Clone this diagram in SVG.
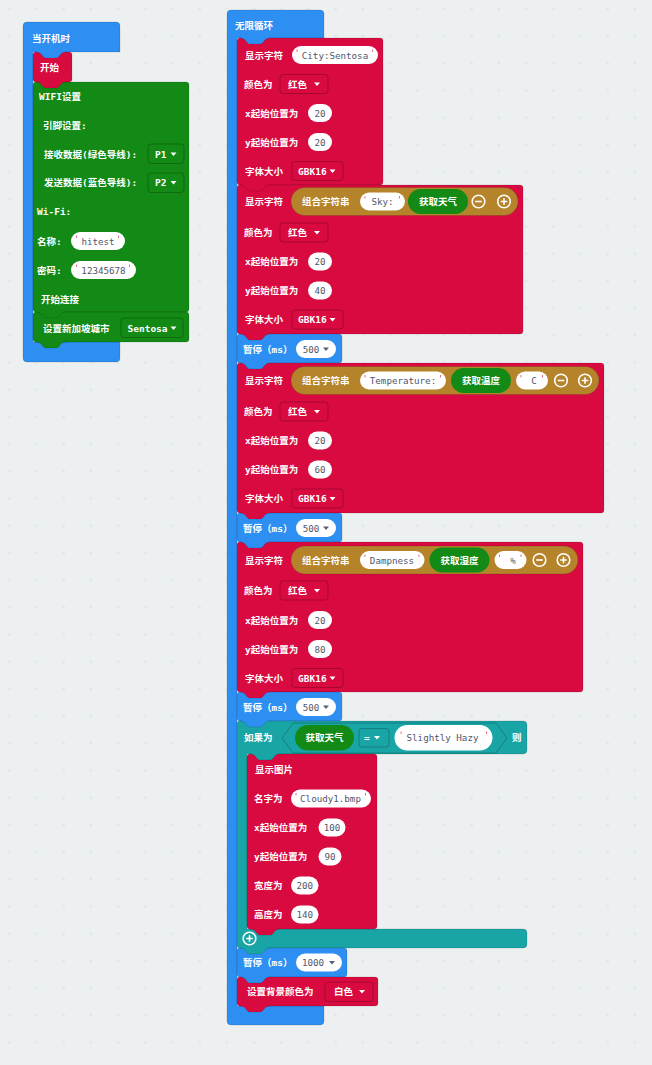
<svg xmlns="http://www.w3.org/2000/svg" xmlns:xlink="http://www.w3.org/1999/xlink" width="652" height="1065" viewBox="0 0 652 1065">
<style>
.t{font-family:"DejaVu Sans Mono","Noto Sans CJK SC",monospace;font-size:9.5px;font-weight:bold;fill:#fff;dominant-baseline:central}
.v{font-family:"DejaVu Sans Mono","Noto Sans CJK SC",monospace;font-size:9.2px;fill:#4f566b;dominant-baseline:central;text-anchor:middle}
.m{text-anchor:middle}
.blue{fill:#2e8ff2;stroke:rgba(0,0,0,0.12);stroke-width:1}
.red{fill:#d80a40;stroke:rgba(0,0,0,0.12);stroke-width:1}
.green{fill:#138a15;stroke:rgba(0,0,0,0.12);stroke-width:1}
.teal{fill:#19a4a5;stroke:rgba(0,0,0,0.12);stroke-width:1}
.join{fill:#b5832a;stroke:rgba(0,0,0,0.12);stroke-width:1}
.gp{fill:#138a15}
.w{fill:#fff}
.dd{stroke:rgba(0,0,0,0.22);stroke-width:1}
.q{stroke:#e0708a;stroke-width:1;fill:none}
.ic{fill:none;stroke:#fff;stroke-width:1.6}
</style>
<defs>
<pattern id="grid" patternUnits="userSpaceOnUse" x="-4.3" y="-4.6" width="27.2" height="27.2">
<path d="M12.1,13.6 h3 M13.6,12.1 v3" stroke="#dde2e5" stroke-width="1"/>
</pattern>
<path id="tab" d="M3,-1 V0 c3,0 4,1 5,2 l2.5,3 c1,1 2,1 3,1 h9 c1,0 2,0 3,-1 l2.5,-3 c1,-1 2,-2 5,-2 V-1"/>
<path id="tri" d="M-3,-1.6 H3 L0,1.9 Z"/>
<path id="q" d="M0,-5.5 V-3"/>
<g id="minus"><circle r="6.3" class="ic"/><path d="M-3.3,0 H3.3" class="ic"/></g>
<g id="plus"><circle r="6.3" class="ic"/><path d="M-3.3,0 H3.3 M0,-3.3 V3.3" class="ic"/></g>
</defs>
<rect width="652" height="1065" fill="#ecf0f1"/>
<rect width="652" height="1065" fill="url(#grid)"/>

<g id="on-start">
<path class="blue" d="M27,22 H116 a4,4 0 0 1 4,4 V52 H33 V342 H120 V358 a4,4 0 0 1 -4,4 H27 a4,4 0 0 1 -4,-4 V26 a4,4 0 0 1 4,-4 Z"/>
<text class="t" x="32" y="38">当开机时</text>
</g>
<g id="start">
<rect class="red" x="33" y="52" width="39" height="30" rx="3"/>
<text class="t" x="40" y="67">开始</text>
</g>
<g id="wifi-setup">
<rect class="green" x="33" y="82" width="156" height="230" rx="3"/>
<text class="t" x="39" y="96">WIFI设置</text>
<text class="t" x="43" y="125">引脚设置:</text>
<text class="t" x="44" y="154">接收数据(绿色导线):</text>
<rect class="green dd" x="148" y="144" width="36" height="19.5" rx="3"/>
<text class="t" x="155" y="154">P1</text>
<use href="#tri" x="173.5" y="154" fill="#fff"/>
<text class="t" x="44" y="182.5">发送数据(蓝色导线):</text>
<rect class="green dd" x="148" y="173" width="36" height="19.5" rx="3"/>
<text class="t" x="155" y="182.5">P2</text>
<use href="#tri" x="173.5" y="182.5" fill="#fff"/>
<text class="t" x="37" y="211.5">Wi-Fi:</text>
<text class="t" x="37" y="241">名称:</text>
<rect class="w" x="71" y="232" width="54" height="18" rx="9"/>
<use href="#q" class="q" x="76.5" y="241"/><use href="#q" class="q" x="118.5" y="241"/>
<text class="v" x="98" y="241">hitest</text>
<text class="t" x="37" y="270">密码:</text>
<rect class="w" x="71" y="261" width="65" height="18" rx="9"/>
<use href="#q" class="q" x="76.5" y="270"/><use href="#q" class="q" x="129.5" y="270"/>
<text class="v" x="103.5" y="270">12345678</text>
<text class="t" x="41" y="299">开始连接</text>
</g>
<g id="set-city">
<rect class="green" x="33" y="312" width="156" height="30" rx="3"/>
<text class="t" x="43" y="328">设置新加坡城市</text>
<rect class="green dd" x="121" y="318" width="62" height="19.5" rx="3"/>
<text class="t" x="127.5" y="328">Sentosa</text>
<use href="#tri" x="173.5" y="328" fill="#fff"/>
</g>

<g id="forever">
<path class="blue" d="M231,10 H320 a4,4 0 0 1 4,4 V38 H237 V1006 H324 V1021 a4,4 0 0 1 -4,4 H231 a4,4 0 0 1 -4,-4 V14 a4,4 0 0 1 4,-4 Z"/>
<text class="t" x="235" y="25.5">无限循环</text>
</g>

<g id="show-city">
<rect class="red" x="237" y="38" width="146" height="147" rx="3"/>
<text class="t" x="245" y="55">显示字符</text>
<rect class="w" x="292" y="46" width="86" height="18" rx="9"/>
<use href="#q" class="q" x="297" y="55"/><use href="#q" class="q" x="372.5" y="55"/>
<text class="v" x="335" y="55">City:Sentosa</text>
<text class="t" x="244" y="84">颜色为</text>
<rect class="red dd" x="280" y="74.5" width="48" height="19" rx="3"/>
<text class="t" x="288" y="84">红色</text>
<use href="#tri" x="317" y="84" fill="#fff"/>
<text class="t" x="245" y="113">x起始位置为</text>
<rect class="w" x="308" y="104" width="24" height="18" rx="9"/>
<text class="v" x="320" y="113">20</text>
<text class="t" x="245" y="142">y起始位置为</text>
<rect class="w" x="308" y="133" width="24" height="18" rx="9"/>
<text class="v" x="320" y="142">20</text>
<text class="t" x="245" y="171">字体大小</text>
<rect class="red dd" x="292" y="161.5" width="51" height="19" rx="3"/>
<text class="t" x="298" y="171">GBK16</text>
<use href="#tri" x="332.5" y="171" fill="#fff"/>
</g>

<g id="show-sky">
<rect class="red" x="237" y="185" width="286" height="149" rx="3"/>
<text class="t" x="245" y="201.5">显示字符</text>
<rect class="join" x="291" y="187.5" width="227" height="28" rx="14"/>
<text class="t" x="302" y="201.5">组合字符串</text>
<rect class="w" x="360" y="192.5" width="45" height="18" rx="9"/>
<use href="#q" class="q" x="365" y="201.5"/><use href="#q" class="q" x="399.5" y="201.5"/>
<text class="v" x="382.5" y="201.5">Sky:</text>
<rect class="gp" x="408" y="189" width="60" height="25" rx="12.5"/>
<text class="t m" x="438" y="201.5">获取天气</text>
<use href="#minus" x="478.5" y="201.5"/>
<use href="#plus" x="504" y="201.5"/>
<text class="t" x="244" y="232.5">颜色为</text>
<rect class="red dd" x="280" y="223" width="48" height="19" rx="3"/>
<text class="t" x="288" y="232.5">红色</text>
<use href="#tri" x="317" y="232.5" fill="#fff"/>
<text class="t" x="245" y="261.5">x起始位置为</text>
<rect class="w" x="308" y="252.5" width="24" height="18" rx="9"/>
<text class="v" x="320" y="261.5">20</text>
<text class="t" x="245" y="290.5">y起始位置为</text>
<rect class="w" x="308" y="281.5" width="24" height="18" rx="9"/>
<text class="v" x="320" y="290.5">40</text>
<text class="t" x="245" y="319.5">字体大小</text>
<rect class="red dd" x="292" y="310" width="51" height="19" rx="3"/>
<text class="t" x="298" y="319.5">GBK16</text>
<use href="#tri" x="332.5" y="319.5" fill="#fff"/>
</g>

<g id="pause-1">
<rect class="blue" x="237" y="334" width="105" height="29" rx="3"/>
<text class="t" x="243" y="349">暂停（ms）</text>
<rect class="w" x="296" y="340" width="40" height="18" rx="9"/>
<text class="v" x="311" y="349">500</text>
<use href="#tri" x="326" y="349" fill="#575e75"/>
</g>

<g id="show-temp">
<rect class="red" x="237" y="363" width="367" height="150" rx="3"/>
<text class="t" x="245" y="380.5">显示字符</text>
<rect class="join" x="291" y="366.5" width="308" height="28" rx="14"/>
<text class="t" x="302" y="380.5">组合字符串</text>
<rect class="w" x="360" y="371.5" width="86" height="18" rx="9"/>
<use href="#q" class="q" x="365" y="380.5"/><use href="#q" class="q" x="440.5" y="380.5"/>
<text class="v" x="403" y="380.5">Temperature:</text>
<rect class="gp" x="451" y="368" width="60" height="25" rx="12.5"/>
<text class="t m" x="481" y="380.5">获取温度</text>
<rect class="w" x="516" y="371.5" width="32" height="18" rx="9"/>
<use href="#q" class="q" x="521" y="380.5"/><use href="#q" class="q" x="542.5" y="380.5"/>
<text class="v" x="534" y="380.5">C</text>
<use href="#minus" x="561" y="380.5"/>
<use href="#plus" x="585" y="380.5"/>
<text class="t" x="244" y="411.5">颜色为</text>
<rect class="red dd" x="280" y="402" width="48" height="19" rx="3"/>
<text class="t" x="288" y="411.5">红色</text>
<use href="#tri" x="317" y="411.5" fill="#fff"/>
<text class="t" x="245" y="440.5">x起始位置为</text>
<rect class="w" x="308" y="431.5" width="24" height="18" rx="9"/>
<text class="v" x="320" y="440.5">20</text>
<text class="t" x="245" y="469.5">y起始位置为</text>
<rect class="w" x="308" y="460.5" width="24" height="18" rx="9"/>
<text class="v" x="320" y="469.5">60</text>
<text class="t" x="245" y="498.5">字体大小</text>
<rect class="red dd" x="292" y="489" width="51" height="19" rx="3"/>
<text class="t" x="298" y="498.5">GBK16</text>
<use href="#tri" x="332.5" y="498.5" fill="#fff"/>
</g>

<g id="pause-2">
<rect class="blue" x="237" y="513" width="105" height="29" rx="3"/>
<text class="t" x="243" y="528">暂停（ms）</text>
<rect class="w" x="296" y="519" width="40" height="18" rx="9"/>
<text class="v" x="311" y="528">500</text>
<use href="#tri" x="326" y="528" fill="#575e75"/>
</g>

<g id="show-damp">
<rect class="red" x="237" y="542" width="346" height="150" rx="3"/>
<text class="t" x="245" y="560">显示字符</text>
<rect class="join" x="291" y="546" width="287" height="28" rx="14"/>
<text class="t" x="302" y="560">组合字符串</text>
<rect class="w" x="360" y="551" width="64.5" height="18" rx="9"/>
<use href="#q" class="q" x="365" y="560"/><use href="#q" class="q" x="419" y="560"/>
<text class="v" x="392" y="560">Dampness</text>
<rect class="gp" x="429.5" y="547.5" width="60" height="25" rx="12.5"/>
<text class="t m" x="459.5" y="560">获取湿度</text>
<rect class="w" x="494.5" y="551" width="32" height="18" rx="9"/>
<use href="#q" class="q" x="499.5" y="560"/><use href="#q" class="q" x="521" y="560"/>
<text class="v" x="513" y="560">%</text>
<use href="#minus" x="539.5" y="560"/>
<use href="#plus" x="563.5" y="560"/>
<text class="t" x="244" y="590.5">颜色为</text>
<rect class="red dd" x="280" y="581" width="48" height="19" rx="3"/>
<text class="t" x="288" y="590.5">红色</text>
<use href="#tri" x="317" y="590.5" fill="#fff"/>
<text class="t" x="245" y="620">x起始位置为</text>
<rect class="w" x="308" y="611" width="24" height="18" rx="9"/>
<text class="v" x="320" y="620">20</text>
<text class="t" x="245" y="649">y起始位置为</text>
<rect class="w" x="308" y="640" width="24" height="18" rx="9"/>
<text class="v" x="320" y="649">80</text>
<text class="t" x="245" y="678">字体大小</text>
<rect class="red dd" x="292" y="668.5" width="51" height="19" rx="3"/>
<text class="t" x="298" y="678">GBK16</text>
<use href="#tri" x="332.5" y="678" fill="#fff"/>
</g>

<g id="pause-3">
<rect class="blue" x="237" y="692" width="105" height="29" rx="3"/>
<text class="t" x="243" y="707">暂停（ms）</text>
<rect class="w" x="296" y="698" width="40" height="18" rx="9"/>
<text class="v" x="311" y="707">500</text>
<use href="#tri" x="326" y="707" fill="#575e75"/>
</g>

<g id="if-hazy">
<path class="teal" d="M240,721 H523 a4,4 0 0 1 4,4 V750 a4,4 0 0 1 -4,4 H247 V929 H523 a4,4 0 0 1 4,4 V944 a4,4 0 0 1 -4,4 H240 a3,3 0 0 1 -3,-3 V724 a3,3 0 0 1 3,-3 Z"/>
<text class="t" x="244" y="737.5">如果为</text>
<path class="teal dd" d="M282,738 L293,723 H496 L507,738 L496,753 H293 Z"/>
<rect class="gp" x="295" y="725" width="59" height="25.5" rx="12.7"/>
<text class="t m" x="324.5" y="737.5">获取天气</text>
<rect class="teal dd" x="359" y="728.5" width="30" height="18.5" rx="3"/>
<text class="t" x="364" y="737.5">=</text>
<use href="#tri" x="377" y="737.5" fill="#fff"/>
<rect class="w" x="394.5" y="725" width="98" height="25.5" rx="12.7"/>
<use href="#q" class="q" x="401" y="737"/><use href="#q" class="q" x="486.5" y="737"/>
<text class="v" x="442.5" y="737.5">Slightly Hazy</text>
<text class="t" x="512" y="737.5">则</text>
<use href="#plus" x="249.5" y="938.5"/>
</g>

<g id="show-image">
<rect class="red" x="247" y="754" width="130" height="175" rx="3"/>
<text class="t" x="255" y="769.5">显示图片</text>
<text class="t" x="254" y="798.5">名字为</text>
<rect class="w" x="291" y="789.5" width="80" height="18" rx="9"/>
<use href="#q" class="q" x="296" y="798.5"/><use href="#q" class="q" x="365.5" y="798.5"/>
<text class="v" x="330.5" y="798.5">Cloudy1.bmp</text>
<text class="t" x="254" y="827.5">x起始位置为</text>
<rect class="w" x="318.5" y="818.5" width="27" height="18" rx="9"/>
<text class="v" x="332" y="827.5">100</text>
<text class="t" x="254" y="856.5">y起始位置为</text>
<rect class="w" x="318.5" y="847.5" width="23" height="18" rx="9"/>
<text class="v" x="330" y="856.5">90</text>
<text class="t" x="254" y="885.5">宽度为</text>
<rect class="w" x="291" y="876.5" width="27.5" height="18" rx="9"/>
<text class="v" x="304.7" y="885.5">200</text>
<text class="t" x="254" y="914.5">高度为</text>
<rect class="w" x="291" y="905.5" width="27.5" height="18" rx="9"/>
<text class="v" x="304.7" y="914.5">140</text>
</g>

<g id="pause-4">
<rect class="blue" x="237" y="948" width="110" height="29" rx="3"/>
<text class="t" x="243" y="962.5">暂停（ms）</text>
<rect class="w" x="296" y="953.5" width="46" height="18" rx="9"/>
<text class="v" x="313" y="962.5">1000</text>
<use href="#tri" x="332" y="962.5" fill="#575e75"/>
</g>

<g id="set-bg">
<rect class="red" x="237" y="977" width="141" height="29" rx="3"/>
<text class="t" x="247" y="991.5">设置背景颜色为</text>
<rect class="red dd" x="325" y="982" width="48" height="19.5" rx="3"/>
<text class="t" x="334" y="991.5">白色</text>
<use href="#tri" x="362" y="991.5" fill="#fff"/>
</g>

<g id="connectors">
<use href="#tab" class="blue" x="33" y="52"/>
<use href="#tab" class="red" x="33" y="82"/>
<use href="#tab" class="green" x="33" y="312"/>
<use href="#tab" class="green" x="33" y="342"/>
<use href="#tab" class="blue" x="237" y="38"/>
<use href="#tab" class="red" x="237" y="185"/>
<use href="#tab" class="red" x="237" y="334"/>
<use href="#tab" class="blue" x="237" y="363"/>
<use href="#tab" class="red" x="237" y="513"/>
<use href="#tab" class="blue" x="237" y="542"/>
<use href="#tab" class="red" x="237" y="692"/>
<use href="#tab" class="blue" x="237" y="721"/>
<use href="#tab" class="teal" x="247" y="754"/>
<use href="#tab" class="red" x="247" y="929"/>
<use href="#tab" class="teal" x="237" y="948"/>
<use href="#tab" class="blue" x="237" y="977"/>
<use href="#tab" class="red" x="237" y="1006"/>
</g>
</svg>
